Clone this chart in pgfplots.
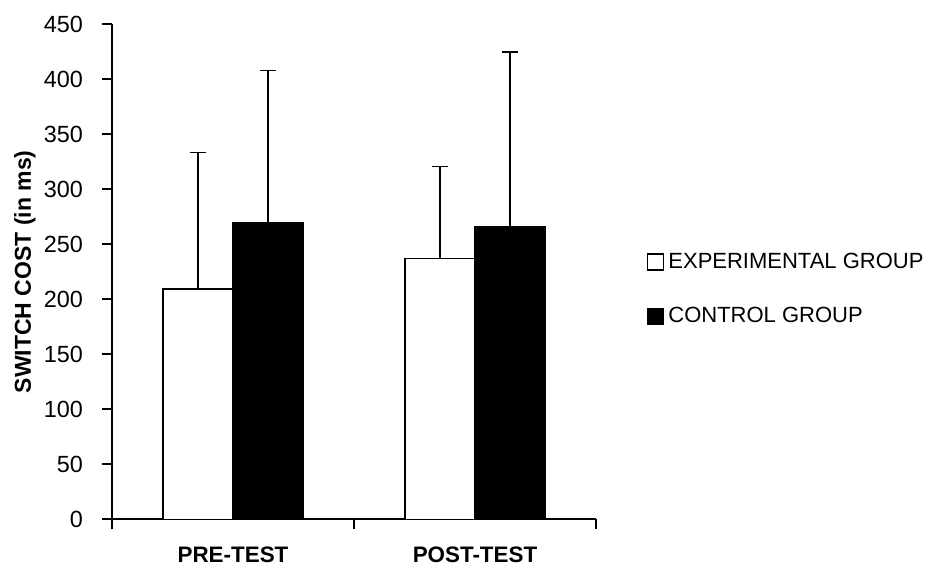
\documentclass[border=0pt]{standalone}
\usepackage{pgfplots}
\pgfplotsset{compat=1.18}
\usepackage{fontspec}
\setmainfont{Liberation Sans}

\begin{document}
\begin{tikzpicture}
\useasboundingbox (-56pt,-23.35pt) rectangle (410.5pt,259.65pt);
\begin{axis}[
  scale only axis, width=242pt, height=247.5pt,
  xmin=0.5, xmax=2.5, ymin=0, ymax=450,
  axis lines*=left,
  axis line style={line width=0.8pt, -},
  ybar=0pt, bar width=35pt,
  xtick={0.5,1.5,2.5}, x tick label as interval,
  xticklabels={PRE-TEST,POST-TEST},
  ytick={0,50,...,450},
  tick align=outside, major tick length=5pt,
  tick style={black, line width=0.8pt},
  /pgf/number format/assume math mode=true,
  yticklabel style={font=\fontsize{11.7}{14}\selectfont, xshift=-6pt},
  xticklabel style={font=\fontsize{11.2}{14}\selectfont\bfseries, yshift=-5.5pt},
  ylabel={SWITCH COST (in ms)},
  ylabel style={font=\fontsize{11.5}{14}\selectfont\bfseries, at={(axis description cs:-0.18,0.5)}, anchor=center},
  legend image code/.code={\draw[#1, line width=0.6pt] (0pt,-4pt) rectangle (8pt,4pt);},
  legend style={draw=none, fill=none, inner sep=0pt, row sep=14pt,
    at={(1.105,0.465)}, anchor=west,
    font=\fontsize{11}{13}\selectfont,
    nodes={inner sep=2pt, anchor=west}},
  legend cell align=left,
]
\addplot[fill=white, draw=black, line width=0.6pt,
  error bars/.cd, y dir=plus, y explicit,
  error bar style={line width=0.7pt, black},
  error mark options={rotate=90, mark size=4pt, line width=0.7pt, black}]
  coordinates {(1,209.4) +- (0,123.8) (2,237) +- (0,83.7)};
\addplot[fill=black, draw=black, line width=0.6pt,
  error bars/.cd, y dir=plus, y explicit,
  error bar style={line width=0.7pt, black},
  error mark options={rotate=90, mark size=4pt, line width=0.7pt, black}]
  coordinates {(1,270) +- (0,138) (2,266.4) +- (0,158.4)};
\legend{EXPERIMENTAL GROUP, CONTROL GROUP}
\end{axis}
\end{tikzpicture}
\end{document}
